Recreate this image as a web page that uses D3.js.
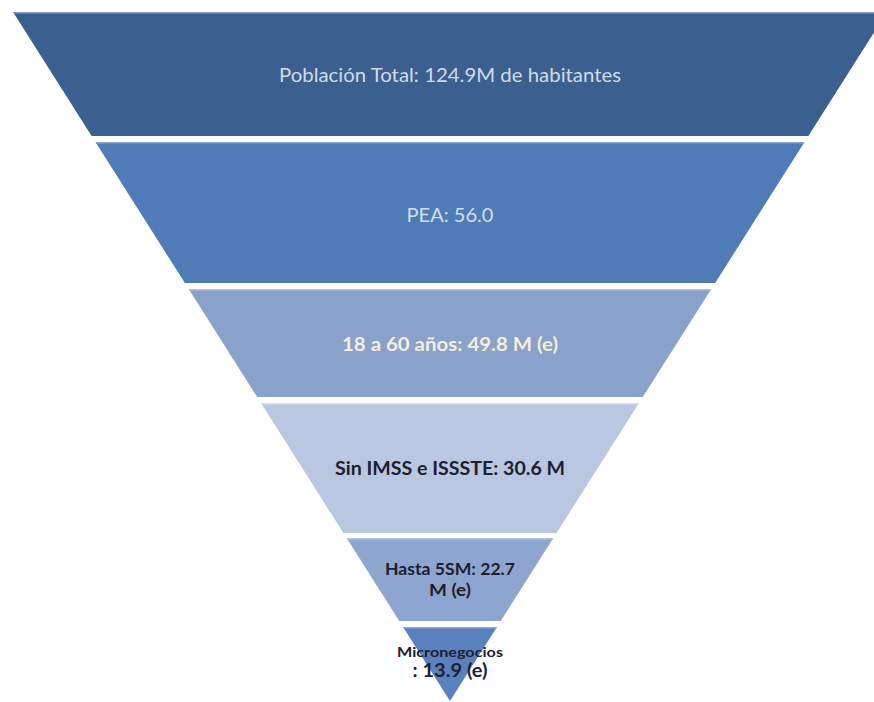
<!DOCTYPE html>
<html>
<head>
<meta charset="utf-8">
<script src="https://cdn.jsdelivr.net/npm/d3@7"></script>
<style>
  html, body { margin: 0; padding: 0; background: #ffffff; }
  svg { display: block; }
</style>
</head>
<body>
<div id="chart"></div>
<script>
// ---- data ----
const categories = ["Población Total", "PEA", "18 a 60 años", "Sin IMSS e ISSSTE", "Hasta 5SM", "Micronegocios"];
const values = [124.9, 56.0, 49.8, 30.6, 22.7, 13.9];
const labelLines = [
  ["Población Total: 124.9M de habitantes"],
  ["PEA: 56.0"],
  ["18 a 60 años: 49.8 M (e)"],
  ["Sin IMSS e ISSSTE: 30.6 M"],
  ["Hasta 5SM: 22.7", "M (e)"],
  ["Micronegocios", ": 13.9 (e)"]
];

// ---- layout / style (not data) ----
const W = 874, H = 702;
const cx = 450, apexY = 701, topY = 12, topHalf = 437;
const bands = [[12, 136], [142, 283], [289, 397], [403, 533], [538, 621], [627, 701]];
const fills = ["#3B6090", "#4F7BB7", "#8AA2CA", "#B9C7E0", "#8EA5CF", "#5A80BE"];
const edges = ["#7F9FC4", "#8AA8D2", "#B3C4DE", "#D6DFEE", "#B5C4E0", "#8FAAD6"];
const textColors = ["#CFDCE8", "#D3DEEE", "#F4EEDD", "#1C2030", "#1C2030", "#1C2030"];
const fontWeights = [400, 400, 700, 700, 700, 700];
const lineSpecs = [
  [{ y: 82, size: 20, w: 342 }],
  [{ y: 222, size: 20, w: 87 }],
  [{ y: 351, size: 19, w: 216 }],
  [{ y: 475, size: 19, w: 230 }],
  [{ y: 575, size: 17, w: 130 }, { y: 596, size: 17, w: 42 }],
  [{ y: 657, size: 14, w: 106 }, { y: 677, size: 18, w: 75 }]
];

const halfWidth = d3.scaleLinear().domain([apexY, topY]).range([0, topHalf]);

const svg = d3.select("#chart").append("svg")
  .attr("width", W).attr("height", H);

const data = categories.map((c, i) => ({ c, v: values[i], lines: labelLines[i], i }));

const g = svg.selectAll("g.seg").data(data).join("g").attr("class", "seg");

g.append("path")
  .attr("d", d => {
    const [y0, y1] = bands[d.i];
    const w0 = halfWidth(y0), w1 = halfWidth(y1);
    const pts = [[cx - w0, y0], [cx + w0, y0], [cx + w1, y1], [cx - w1, y1]];
    return d3.line()(pts) + "Z";
  })
  .attr("fill", d => fills[d.i]);

// light top edge (bevel)
g.append("line")
  .attr("x1", d => cx - halfWidth(bands[d.i][0]) + 1)
  .attr("x2", d => cx + halfWidth(bands[d.i][0]) - 1)
  .attr("y1", d => bands[d.i][0] + 0.75)
  .attr("y2", d => bands[d.i][0] + 0.75)
  .attr("stroke", d => edges[d.i])
  .attr("stroke-width", 1.5);

g.each(function(d) {
  const sel = d3.select(this);
  d.lines.forEach((t, k) => {
    const s = lineSpecs[d.i][k];
    sel.append("text")
      .attr("x", cx)
      .attr("y", s.y)
      .attr("text-anchor", "middle")
      .attr("font-family", "Lato, 'Open Sans', sans-serif")
      .attr("font-size", s.size)
      .attr("font-weight", fontWeights[d.i])
      .attr("fill", textColors[d.i])
      .attr("textLength", s.w)
      .attr("lengthAdjust", "spacingAndGlyphs")
      .text(t);
  });
});
</script>
</body>
</html>
